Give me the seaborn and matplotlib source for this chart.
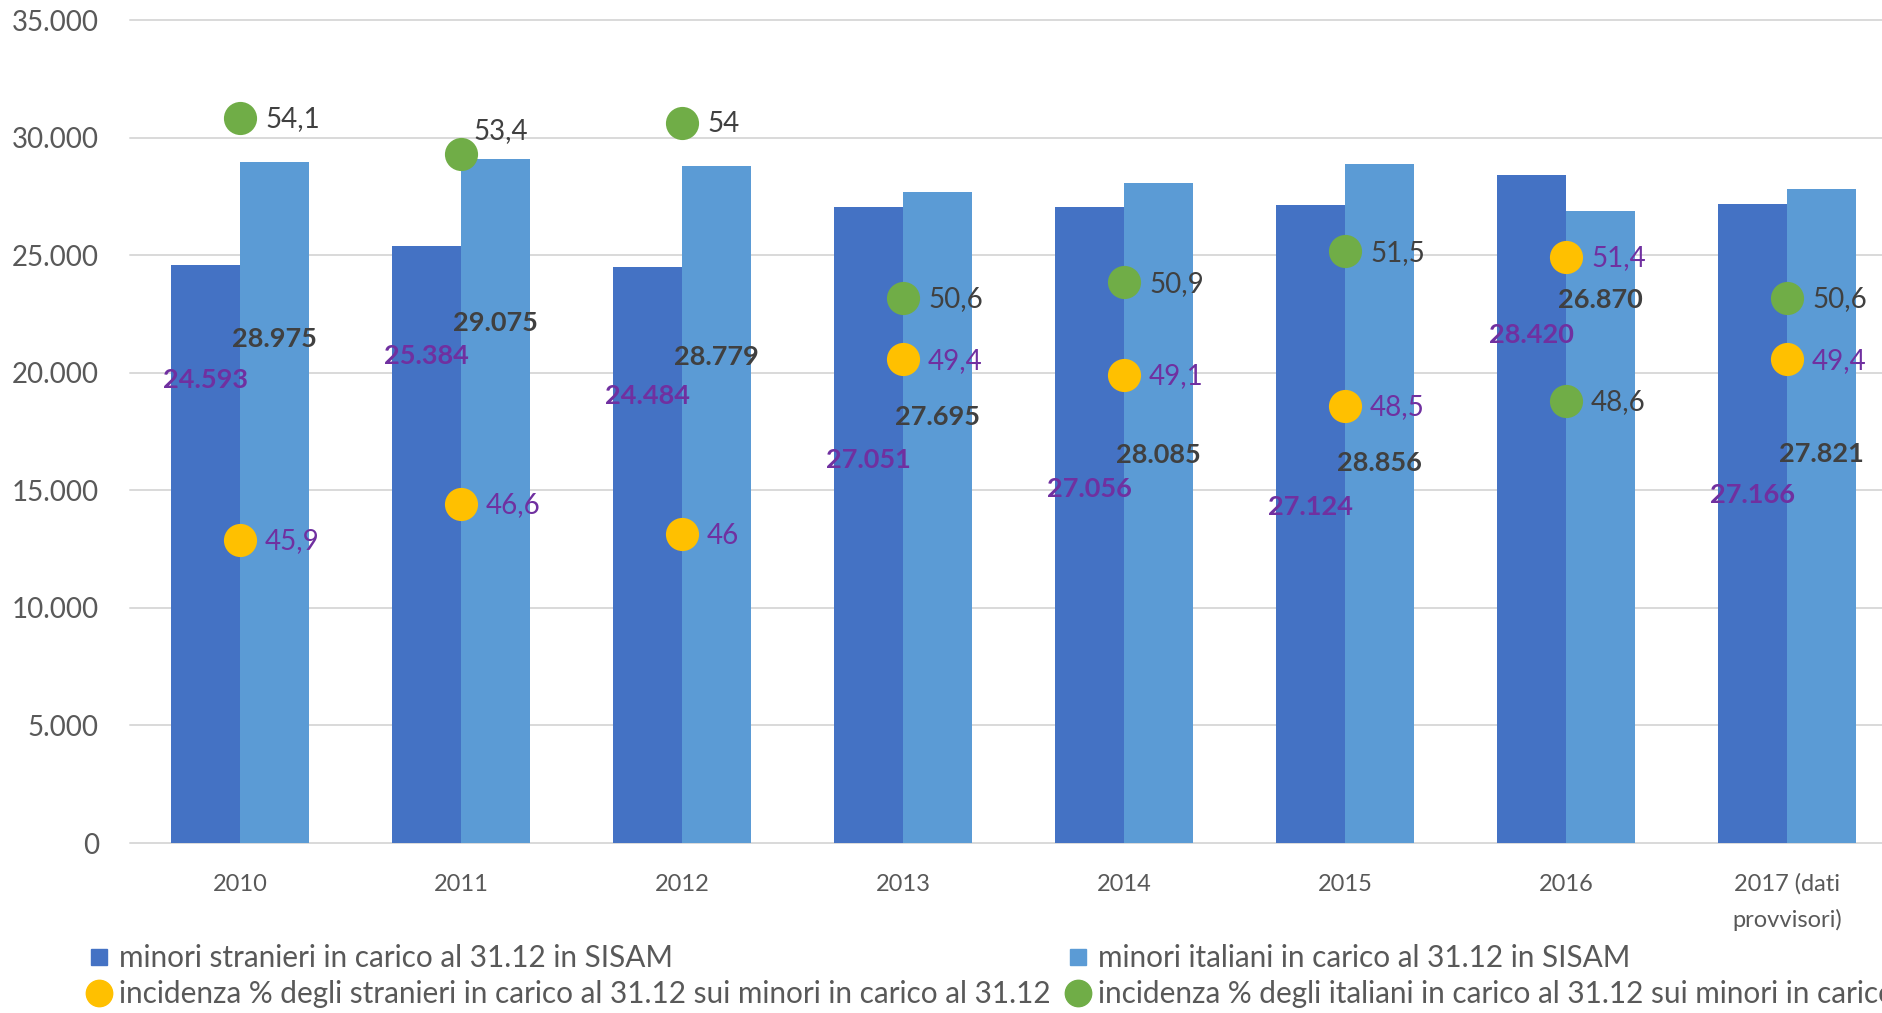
import numpy as np
import pandas as pd
import matplotlib
matplotlib.use("Agg")
import matplotlib.pyplot as plt
import seaborn as sns
from matplotlib.lines import Line2D
from matplotlib.ticker import FuncFormatter

# dati
anni = ["2010", "2011", "2012", "2013", "2014", "2015", "2016", "2017 (dati\nprovvisori)"]
stranieri = [24593, 25384, 24484, 27051, 27056, 27124, 28420, 27166]
italiani = [28975, 29075, 28779, 27695, 28085, 28856, 26870, 27821]
perc_stranieri = [45.9, 46.6, 46.0, 49.4, 49.1, 48.5, 51.4, 49.4]
perc_italiani = [54.1, 53.4, 54.0, 50.6, 50.9, 51.5, 48.6, 50.6]

nome_str = "minori stranieri in carico al 31.12 in SISAM"
nome_ita = "minori italiani in carico al 31.12 in SISAM"
nome_pstr = "incidenza % degli stranieri in carico al 31.12 sui minori in carico al 31.12"
nome_pita = "incidenza % degli italiani in carico al 31.12 sui minori in carico al 31.12"

# posizione verticale delle etichette (spostate a mano nell'originale)
pos_lab_str = [19700, 20700, 19000, 16300, 15050, 14300, 21600, 14800]
pos_lab_ita = [21430, 22100, 20650, 18100, 16480, 16170, 23100, 16530]
# spostamento (punti) delle etichette dei pallini verdi
off_lab_pita = [(18, 0), (9, 17), (18, 0), (18, 0), (18, 0), (18, 0), (18, 0), (18, 0)]

col_str = "#4472C4"
col_ita = "#5B9BD5"
col_pstr = "#FFC000"
col_pita = "#70AD47"
viola = "#7030A0"
grigio = "#404040"
grigio_tick = "#595959"

sns.set_theme(style="white")
plt.rcParams['font.family'] = ['Lato', 'DejaVu Sans']

df = pd.DataFrame({
    "anno": anni * 2,
    "valore": stranieri + italiani,
    "serie": [nome_str] * len(anni) + [nome_ita] * len(anni),
})

fig = plt.figure(figsize=(18.82, 10.13), dpi=100)
ax = fig.add_axes([129.5 / 1882, 170 / 1013, 1768 / 1882, 823 / 1013])

sns.barplot(data=df, x="anno", y="valore", hue="serie", order=anni,
            hue_order=[nome_str, nome_ita], palette=[col_str, col_ita],
            width=0.62, saturation=1, linewidth=0, legend=False, ax=ax)

ax.set_xlim(-0.5, len(anni) - 0.5)
ax.set_ylim(0, 35000)
ax.set_yticks(np.arange(0, 35001, 5000))
ax.yaxis.set_major_formatter(FuncFormatter(lambda v, p: f"{int(v):,}".replace(",", ".")))
ax.yaxis.grid(True, color="#D9D9D9", lw=1.4)
for gl in ax.get_ygridlines():
    gl.set_clip_on(False)
ax.set_axisbelow(True)
sns.despine(ax=ax, left=True, bottom=True)
ax.set_xlabel("")
ax.set_ylabel("")
ax.tick_params(axis="y", length=0, pad=22, labelsize=20, labelcolor=grigio_tick)
ax.tick_params(axis="x", length=0, pad=22, labelsize=17, labelcolor=grigio_tick)
for t in ax.get_xticklabels():
    t.set_linespacing(1.75)

# etichette delle barre
xpos = np.arange(len(anni))
for i in range(len(anni)):
    ax.text(xpos[i] - 0.155, pos_lab_str[i], f"{stranieri[i]:,}".replace(",", "."),
            ha="center", va="center", fontsize=19.5, fontweight="bold", color=viola)
    ax.text(xpos[i] + 0.155, pos_lab_ita[i], f"{italiani[i]:,}".replace(",", "."),
            ha="center", va="center", fontsize=19.5, fontweight="bold", color=grigio)

# incidenze percentuali su asse secondario nascosto
ax2 = ax.twinx()
ax2.set_ylim(40, 56)
sns.scatterplot(x=xpos, y=perc_stranieri, color=col_pstr, s=570, linewidth=0, ax=ax2)
sns.scatterplot(x=xpos, y=perc_italiani, color=col_pita, s=570, linewidth=0, ax=ax2)
ax2.set_xlim(-0.5, len(anni) - 0.5)
ax2.axis("off")

for i in range(len(anni)):
    ax2.annotate(f"{perc_stranieri[i]:g}".replace(".", ","), (xpos[i], perc_stranieri[i]),
                 xytext=(18, -1), textcoords="offset points", ha="left", va="center",
                 fontsize=20, color=viola)
    ax2.annotate(f"{perc_italiani[i]:g}".replace(".", ","), (xpos[i], perc_italiani[i]),
                 xytext=(off_lab_pita[i][0], off_lab_pita[i][1] - 1), textcoords="offset points",
                 ha="left", va="center", fontsize=20, color=grigio)

# legenda su due colonne
h_str = Line2D([], [], marker="s", ls="none", color=col_str, markersize=11)
h_ita = Line2D([], [], marker="s", ls="none", color=col_ita, markersize=11)
h_pstr = Line2D([], [], marker="o", ls="none", color=col_pstr, markersize=19)
h_pita = Line2D([], [], marker="o", ls="none", color=col_pita, markersize=19)

kw = dict(loc="upper left", frameon=False, fontsize=21.4, labelcolor=grigio_tick,
          handlelength=0.85, handletextpad=0.25, labelspacing=0.28, borderpad=0,
          borderaxespad=0)
fig.legend([h_str, h_pstr], [nome_str, nome_pstr], bbox_to_anchor=(86 / 1882, 1 - 944 / 1013), **kw)
fig.legend([h_ita, h_pita], [nome_ita, nome_pita], bbox_to_anchor=(1065 / 1882, 1 - 944 / 1013), **kw)

fig.savefig("out.png", dpi=100)
